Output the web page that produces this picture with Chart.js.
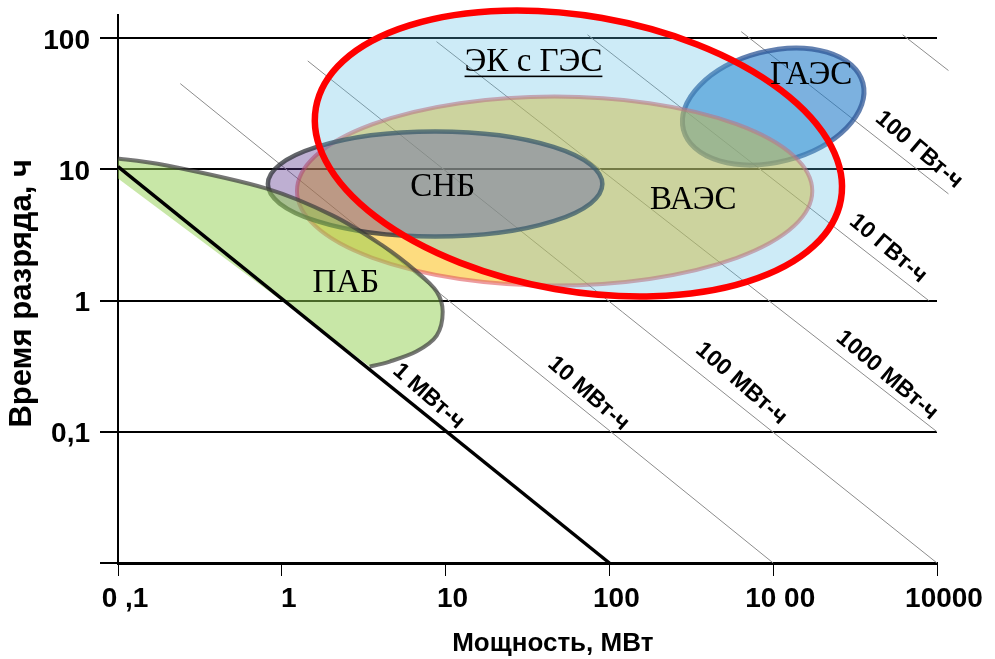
<!DOCTYPE html>
<html lang="ru">
<head>
<meta charset="utf-8">
<title>Время разряда и мощность накопителей</title>
<script src="https://cdn.jsdelivr.net/npm/chart.js@4.4.1/dist/chart.umd.min.js"></script>
<style>
  html, body { margin: 0; padding: 0; background: #fff; }
  #wrap { width: 995px; height: 659px; }
</style>
</head>
<body>
<div id="wrap"><canvas id="chart" width="995" height="659"></canvas></div>
<script>
// оси
const powerTicks = [0.1, 1, 10, 100, 1000, 10000];
const powerTickLabels = ['0 ,1', '1', '10', '100', '10 00', '10000'];
const timeTicks = [0.01, 0.1, 1, 10, 100];
const timeTickLabels = ['', '0,1', '1', '10', '100'];

// линии постоянной энергии: начало и конец (МВт, ч)
const energyNames = ['1 МВт-ч', '10 МВт-ч', '100 МВт-ч', '1000 МВт-ч', '10 ГВт-ч', '100 ГВт-ч', ''];
const energyStartP = [0.1, 0.24, 1.44, 8.8, 73.5, 638, 6170];
const energyStartT = [10.5, 45, 67, 94, 106, 112, 106];
const energyEndP = [100, 1000, 10000, 10000, 8900, 11750, 11750];
const energyEndT = [0.01, 0.01, 0.01, 0.1, 1, 6.5, 56.6];

// области: центр (МВт, ч) и полуразмах в декадах
const regionNames = ['ГАЭС', 'ВАЭС', 'СНБ', 'ЭК с ГЭС'];
const regionCenterP = [1000, 46.3, 8.63, 64.7];
const regionCenterT = [30.1, 6.83, 7.72, 13.2];
const regionSpanP = [0.566, 1.573, 1.021, 1.627];
const regionSpanT = [0.422, 0.72, 0.4, 1.048];

// ПАБ: контур, последняя точка - нижний левый угол
const pabP = [0.1, 0.199, 0.81, 2.05, 4.13, 6.66, 8.82, 9.6, 8.82, 6.66, 4.56, 3.44, 0.1];
const pabT = [12.1, 10.7, 7.13, 4.44, 2.62, 1.66, 1.17, 0.82, 0.54, 0.41, 0.343, 0.314, 8.5];

const regionStyle = {
  'ГАЭС': { fill: 'rgba(30,120,200,0.58)', stroke: 'rgba(45,85,150,0.75)', width: 5, tilt: -14.6 },
  'ВАЭС': { fill: 'rgba(251,185,0,0.5)', stroke: 'rgba(225,90,95,0.6)', width: 4, tilt: 0 },
  'СНБ': { fill: 'rgba(92,55,142,0.4)', stroke: 'rgba(45,50,55,0.75)', width: 4.5, tilt: 0 },
  'ЭК с ГЭС': { fill: 'rgba(88,188,228,0.3)', stroke: '#ff0000', width: 6.5, tilt: 9.9 }
};
const pabStyle = { fill: 'rgba(146,208,80,0.5)', stroke: 'rgba(60,60,60,0.7)', width: 4 };

// где стоят подписи (МВт, ч)
const labelAt = {
  'ЭК с ГЭС': [34.4, 65.1], 'ГАЭС': [1706, 51.8], 'СНБ': [9.6, 7.26], 'ВАЭС': [325, 5.78], 'ПАБ': [2.46, 1.35],
  '1 МВт-ч': [7.87, 0.186], '10 МВт-ч': [74.5, 0.195], '100 МВт-ч': [638, 0.233],
  '1000 МВт-ч': [4955, 0.269], '10 ГВт-ч': [5020, 2.49], '100 ГВт-ч': [7762, 14.1]
};

const sans = "'Liberation Sans', Arial, sans-serif";
const serif = "'Liberation Serif', 'Times New Roman', serif";

const datasets = energyNames.map((name, i) => ({
  label: name,
  data: [{ x: energyStartP[i], y: energyStartT[i] }, { x: energyEndP[i], y: energyEndT[i] }],
  showLine: true,
  borderColor: i === 0 ? '#000' : '#8c8c8c',
  borderWidth: i === 0 ? 3.5 : 1,
  pointRadius: 0,
  clip: false
}));

function ellipsePath(ctx, xs, ys, i) {
  const cx = xs.getPixelForValue(regionCenterP[i]);
  const cy = ys.getPixelForValue(regionCenterT[i]);
  const rx = xs.getPixelForValue(regionCenterP[i] * Math.pow(10, regionSpanP[i])) - cx;
  const ry = cy - ys.getPixelForValue(regionCenterT[i] * Math.pow(10, regionSpanT[i]));
  ctx.beginPath();
  ctx.ellipse(cx, cy, rx, ry, regionStyle[regionNames[i]].tilt * Math.PI / 180, 0, Math.PI * 2);
}

function smoothPath(ctx, pts) {
  ctx.moveTo(pts[0].x, pts[0].y);
  for (let i = 0; i < pts.length - 1; i++) {
    const p0 = pts[i - 1] || pts[i], p1 = pts[i], p2 = pts[i + 1], p3 = pts[i + 2] || p2;
    ctx.bezierCurveTo(p1.x + (p2.x - p0.x) / 6, p1.y + (p2.y - p0.y) / 6,
                      p2.x - (p3.x - p1.x) / 6, p2.y - (p3.y - p1.y) / 6, p2.x, p2.y);
  }
}

function drawRegion(ctx, xs, ys, name) {
  const i = regionNames.indexOf(name);
  const st = regionStyle[name];
  ellipsePath(ctx, xs, ys, i);
  ctx.fillStyle = st.fill;
  ctx.fill();
  if (name !== 'ЭК с ГЭС') {
    ctx.strokeStyle = st.stroke;
    ctx.lineWidth = st.width;
    ctx.stroke();
  }
}

function drawPab(ctx, xs, ys) {
  const pts = pabP.map((p, i) => ({ x: xs.getPixelForValue(p), y: ys.getPixelForValue(pabT[i]) }));
  const curve = pts.slice(0, pts.length - 1);
  const corner = pts[pts.length - 1];
  ctx.beginPath();
  smoothPath(ctx, curve);
  ctx.lineTo(corner.x, corner.y);
  ctx.closePath();
  ctx.fillStyle = pabStyle.fill;
  ctx.fill();
  ctx.beginPath();
  smoothPath(ctx, curve);
  ctx.strokeStyle = pabStyle.stroke;
  ctx.lineWidth = pabStyle.width;
  ctx.stroke();
}

const regionsPlugin = {
  id: 'regions',
  beforeDatasetDraw(chart, args) {
    if (args.index !== 0) return;
    const { ctx, scales: { x, y } } = chart;
    ctx.save();
    drawRegion(ctx, x, y, 'ГАЭС');
    drawRegion(ctx, x, y, 'ВАЭС');
    drawRegion(ctx, x, y, 'СНБ');
    drawPab(ctx, x, y);
    drawRegion(ctx, x, y, 'ЭК с ГЭС');
    ctx.restore();
  },
  afterDatasetsDraw(chart) {
    const { ctx, scales: { x, y } } = chart;
    ctx.save();
    // красный контур ЭК с ГЭС
    const k = regionNames.indexOf('ЭК с ГЭС');
    ellipsePath(ctx, x, y, k);
    ctx.strokeStyle = regionStyle['ЭК с ГЭС'].stroke;
    ctx.lineWidth = regionStyle['ЭК с ГЭС'].width;
    ctx.stroke();

    // подписи областей
    ctx.fillStyle = '#000';
    ctx.textAlign = 'center';
    ctx.textBaseline = 'middle';
    ctx.font = '33px ' + serif;
    regionNames.concat(['ПАБ']).forEach(name => {
      const [p, t] = labelAt[name];
      const px = x.getPixelForValue(p), py = y.getPixelForValue(t);
      ctx.fillText(name, px, py);
      if (name === 'ЭК с ГЭС') {
        const w = ctx.measureText(name).width;
        ctx.fillRect(px - w / 2, py + 13, w, 1.6);
      }
    });

    // подписи линий энергии
    ctx.font = 'bold 23px ' + sans;
    energyNames.forEach((name, i) => {
      if (!name) return;
      const x0 = x.getPixelForValue(energyStartP[i]), y0 = y.getPixelForValue(energyStartT[i]);
      const x1 = x.getPixelForValue(energyEndP[i]), y1 = y.getPixelForValue(energyEndT[i]);
      const [p, t] = labelAt[name];
      ctx.save();
      ctx.translate(x.getPixelForValue(p), y.getPixelForValue(t));
      ctx.rotate(Math.atan2(y1 - y0, x1 - x0) + 0.04);
      ctx.fillText(name, 0, 0);
      ctx.restore();
    });
    ctx.restore();
  }
};

Chart.defaults.font.family = sans;
Chart.defaults.color = '#000';

new Chart(document.getElementById('chart'), {
  type: 'scatter',
  data: { datasets },
  options: {
    responsive: false,
    animation: false,
    events: [],
    layout: { padding: { top: 15, right: 58, bottom: 0, left: 0 } },
    plugins: { legend: { display: false }, tooltip: { enabled: false } },
    scales: {
      x: {
        type: 'logarithmic',
        min: 0.1,
        max: 10000,
        afterBuildTicks: s => { s.ticks = powerTicks.map(v => ({ value: v })); },
        afterFit: s => { s.height = 96; s.paddingLeft = 0; s.paddingRight = 0; },
        ticks: {
          autoSkip: false, maxRotation: 0, padding: 6, labelOffset: 7,
          font: { size: 28, weight: 'bold' },
          callback: (v, i) => powerTickLabels[i]
        },
        grid: { drawOnChartArea: false, color: '#000', lineWidth: 1, tickLength: 13 },
        border: { color: '#000', width: 3 },
        title: {
          display: true,
          text: '\u00a0\u00a0\u00a0\u00a0\u00a0\u00a0\u00a0Мощность, МВт',
          font: { size: 26, weight: 'bold' },
          padding: { top: 0, bottom: 0 }
        }
      },
      y: {
        type: 'logarithmic',
        min: 0.01,
        max: 150,
        afterBuildTicks: s => { s.ticks = timeTicks.map(v => ({ value: v })); },
        afterFit: s => { s.width = 118; s.paddingTop = 0; s.paddingBottom = 0; },
        ticks: {
          autoSkip: false, padding: 10, labelOffset: 3,
          font: { size: 28, weight: 'bold' },
          callback: (v, i) => timeTickLabels[i]
        },
        grid: { color: '#000', lineWidth: 2, tickLength: 18 },
        border: { color: '#000', width: 2 },
        title: {
          display: true,
          text: 'Время разряда, ч\u00a0',
          font: { size: 31, weight: 'bold' },
          padding: { top: 4, bottom: 0 }
        }
      }
    }
  },
  plugins: [regionsPlugin]
});
</script>
</body>
</html>
